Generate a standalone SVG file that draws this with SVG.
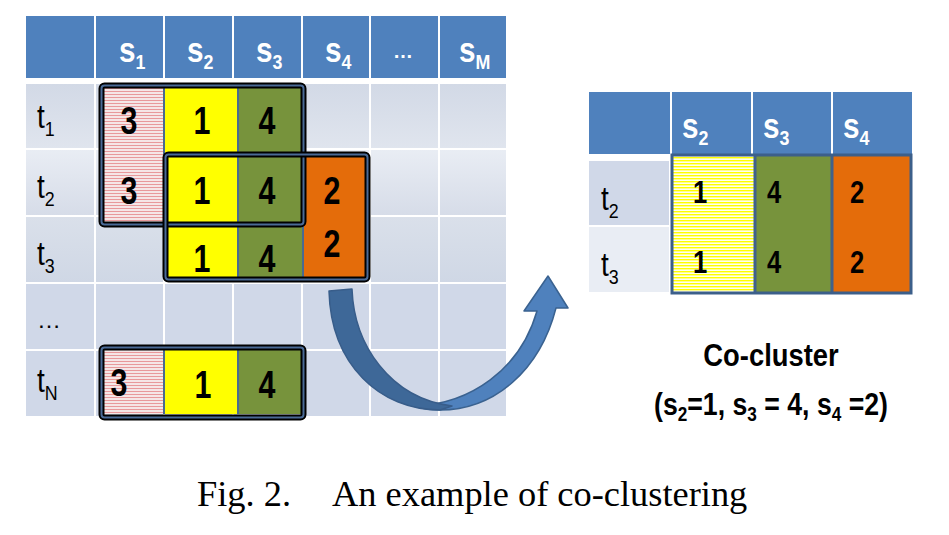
<svg xmlns="http://www.w3.org/2000/svg" width="949" height="535" viewBox="0 0 949 535">
<style>
.hd{fill:#ffffff;font-family:"Liberation Sans",Arial,sans-serif;font-size:35px;font-weight:bold}
.sub{font-size:21px}
.lb{fill:#000;font-family:"Liberation Sans",Arial,sans-serif;font-size:33px}
.num{fill:#000;font-family:"Liberation Sans",Arial,sans-serif;font-size:39px;font-weight:bold;text-anchor:middle}
.numr{fill:#000;font-family:"Liberation Sans",Arial,sans-serif;font-size:32px;font-weight:bold;text-anchor:middle}
.grid{stroke:#ffffff;stroke-width:2}
.boxo{fill:none;stroke:#000;stroke-width:6}
.boxi{fill:none;stroke:#4a6a96;stroke-width:2}
.sep{stroke:#4a6a90;stroke-width:2}
.cap{fill:#000;font-family:"Liberation Serif","Times New Roman",serif;font-size:36.4px}
.cc{fill:#000;font-family:"Liberation Sans",Arial,sans-serif;font-weight:bold;text-anchor:middle}
</style>
<defs>
<linearGradient id="g1" x1="0" y1="0" x2="0" y2="1"><stop offset="0" stop-color="#d2d9e6"/><stop offset="1" stop-color="#e0e5ee"/></linearGradient>
<linearGradient id="g2" x1="0" y1="0" x2="0" y2="1"><stop offset="0" stop-color="#e9edf4"/><stop offset="1" stop-color="#d6dce8"/></linearGradient>
<linearGradient id="g3" x1="0" y1="0" x2="0" y2="1"><stop offset="0" stop-color="#dae0ea"/><stop offset="1" stop-color="#cfd7e5"/></linearGradient>
<pattern id="pink" width="4" height="3" patternUnits="userSpaceOnUse"><rect width="4" height="3" fill="#f5e6e6"/><rect y="1" width="4" height="1" fill="#e8999b"/></pattern>
<pattern id="yel" width="4" height="3" patternUnits="userSpaceOnUse"><rect width="4" height="3" fill="#fffff0"/><rect y="1" width="4" height="1.4" fill="#ffff00"/></pattern>
</defs>
<rect width="949" height="535" fill="#ffffff"/>

<g id="left-table">
<rect x="26" y="16" width="480" height="62" fill="#4f81bd"/>
<rect x="26" y="84" width="480" height="65" fill="url(#g1)"/>
<rect x="26" y="149" width="480" height="67" fill="url(#g2)"/>
<rect x="26" y="216" width="480" height="67" fill="url(#g3)"/>
<rect x="26" y="283" width="480" height="133" fill="#d0d8e8"/>
<g class="grid">
<line x1="95" y1="16" x2="95" y2="416"/>
<line x1="164" y1="16" x2="164" y2="416"/>
<line x1="233" y1="16" x2="233" y2="416"/>
<line x1="302" y1="16" x2="302" y2="416"/>
<line x1="370" y1="16" x2="370" y2="416"/>
<line x1="439" y1="16" x2="439" y2="416"/>
<line x1="26" y1="149" x2="506" y2="149"/>
<line x1="26" y1="216" x2="506" y2="216"/>
<line x1="26" y1="283" x2="506" y2="283"/>
<line x1="26" y1="350" x2="506" y2="350"/>
</g>
<text class="hd" transform="translate(119,62) scale(0.85,1)">s<tspan class="sub" dy="7">1</tspan></text>
<text class="hd" transform="translate(187,62) scale(0.85,1)">s<tspan class="sub" dy="7">2</tspan></text>
<text class="hd" transform="translate(256,62) scale(0.85,1)">s<tspan class="sub" dy="7">3</tspan></text>
<text class="hd" transform="translate(325,62) scale(0.85,1)">s<tspan class="sub" dy="7">4</tspan></text>
<text class="hd" x="403" y="58" text-anchor="middle" style="font-size:20px">…</text>
<text class="hd" transform="translate(459,62) scale(0.85,1)">s<tspan class="sub" dy="7">M</tspan></text>
<text class="lb" transform="translate(37,128) scale(0.85,1)">t<tspan class="sub" dy="8">1</tspan></text>
<text class="lb" transform="translate(37,198) scale(0.85,1)">t<tspan class="sub" dy="8">2</tspan></text>
<text class="lb" transform="translate(37,265) scale(0.85,1)">t<tspan class="sub" dy="8">3</tspan></text>
<text class="lb" x="37" y="328" style="font-size:24px">…</text>
<text class="lb" transform="translate(37,392) scale(0.85,1)">t<tspan class="sub" dy="8">N</tspan></text>
</g>

<g id="cluster-cells">
<rect x="103" y="87" width="61" height="135" fill="url(#pink)"/>
<rect x="164" y="87" width="74" height="190" fill="#ffff00"/>
<rect x="238" y="87" width="65" height="190" fill="#77933c"/>
<rect x="303" y="156" width="64" height="121" fill="#e46c0a"/>
<rect x="103" y="350" width="61" height="64" fill="url(#pink)"/>
<rect x="164" y="350" width="74" height="64" fill="#ffff00"/>
<rect x="238" y="350" width="65" height="64" fill="#77933c"/>
<line class="sep" x1="164" y1="87" x2="164" y2="156"/>
<line class="sep" x1="238" y1="87" x2="238" y2="277"/>
<line class="sep" x1="303" y1="156" x2="303" y2="277"/>
<line class="sep" x1="164" y1="350" x2="164" y2="414"/>
<line class="sep" x1="238" y1="350" x2="238" y2="414"/>
<text class="num" transform="translate(129,134) scale(0.78,1)">3</text>
<text class="num" transform="translate(202,134) scale(0.78,1)">1</text>
<text class="num" transform="translate(267,134) scale(0.78,1)">4</text>
<text class="num" transform="translate(129,204) scale(0.78,1)">3</text>
<text class="num" transform="translate(202,204) scale(0.78,1)">1</text>
<text class="num" transform="translate(267,204) scale(0.78,1)">4</text>
<text class="num" transform="translate(332,204) scale(0.78,1)">2</text>
<text class="num" transform="translate(202,272) scale(0.78,1)">1</text>
<text class="num" transform="translate(267,272) scale(0.78,1)">4</text>
<text class="num" transform="translate(332,257) scale(0.78,1)">2</text>
<text class="num" transform="translate(119,396) scale(0.78,1)">3</text>
<text class="num" transform="translate(203,398) scale(0.78,1)">1</text>
<text class="num" transform="translate(267,398) scale(0.78,1)">4</text>
</g>

<g id="box-t1t2">
<rect class="boxo" x="101.5" y="85.5" width="202" height="139" rx="3"/>
<rect class="boxi" x="101.5" y="85.5" width="202" height="139" rx="3"/>
</g>
<g id="box-t2t3">
<rect class="boxo" x="165.5" y="154.5" width="202" height="125" rx="3"/>
<rect class="boxi" x="165.5" y="154.5" width="202" height="125" rx="3"/>
</g>
<g id="box-tN">
<rect class="boxo" x="101.5" y="347.5" width="202" height="70" rx="3"/>
<rect class="boxi" x="101.5" y="347.5" width="202" height="70" rx="3"/>
</g>

<g id="connectors">
<path d="M415,406 C470,404 520,370 537,311 L524,311 L548,276 L568,308 L556,308 C540,370 495,410 440,410 C430,410 420,408 415,406 Z" fill="#4f81bd" stroke="#3a6290" stroke-width="1.5" stroke-linejoin="round"/>
<path d="M329,291 L352,289 C354,345 390,398 452,406 L440,410 C380,410 331,365 329,291 Z" fill="#3e6898" stroke="#385d8a" stroke-width="1.5" stroke-linejoin="round"/>
</g>

<g id="right-table">
<rect x="589" y="92" width="323" height="62" fill="#4f81bd"/>
<g class="grid">
<line x1="671" y1="92" x2="671" y2="154"/>
<line x1="752" y1="92" x2="752" y2="154"/>
<line x1="832" y1="92" x2="832" y2="154"/>
</g>
<rect x="589" y="161" width="80" height="64" fill="#d0d8e8"/>
<rect x="589" y="227" width="80" height="65" fill="#e9edf4"/>
<text class="hd" transform="translate(682,138) scale(0.85,1)">s<tspan class="sub" dy="7">2</tspan></text>
<text class="hd" transform="translate(763,138) scale(0.85,1)">s<tspan class="sub" dy="7">3</tspan></text>
<text class="hd" transform="translate(843,138) scale(0.85,1)">s<tspan class="sub" dy="7">4</tspan></text>
<text class="lb" transform="translate(601,210) scale(0.85,1)">t<tspan class="sub" dy="8">2</tspan></text>
<text class="lb" transform="translate(601,276) scale(0.85,1)">t<tspan class="sub" dy="8">3</tspan></text>
</g>

<g id="co-cluster">
<rect x="673" y="156" width="82" height="136" fill="url(#yel)"/>
<rect x="755" y="156" width="77" height="136" fill="#77933c"/>
<rect x="832" y="156" width="78" height="136" fill="#e46c0a"/>
<line x1="755" y1="155" x2="755" y2="293" stroke="#41618a" stroke-width="3"/>
<line x1="832" y1="155" x2="832" y2="293" stroke="#41618a" stroke-width="3"/>
<rect x="672" y="155" width="239" height="138" fill="none" stroke="#3c5f8a" stroke-width="3"/>
<text class="numr" transform="translate(700,203) scale(0.8,1)">1</text>
<text class="numr" transform="translate(774,203) scale(0.8,1)">4</text>
<text class="numr" transform="translate(857,203) scale(0.8,1)">2</text>
<text class="numr" transform="translate(700,273) scale(0.8,1)">1</text>
<text class="numr" transform="translate(774,273) scale(0.8,1)">4</text>
<text class="numr" transform="translate(857,273) scale(0.8,1)">2</text>
</g>

<g id="co-cluster-label">
<text class="cc" transform="translate(771,366) scale(0.855,1)" style="font-size:32px">Co-cluster</text>
<text class="cc" transform="translate(771,415) scale(0.86,1)" style="font-size:31px">(s<tspan style="font-size:20px" dy="6">2</tspan><tspan dy="-6">=1, s</tspan><tspan style="font-size:20px" dy="6">3</tspan><tspan dy="-6"> = 4, s</tspan><tspan style="font-size:20px" dy="6">4</tspan><tspan dy="-6"> =2)</tspan></text>
</g>

<g id="caption">
<text class="cap" x="197" y="506">Fig. 2.</text>
<text class="cap" x="332" y="506">An example of co-clustering</text>
</g>
</svg>
